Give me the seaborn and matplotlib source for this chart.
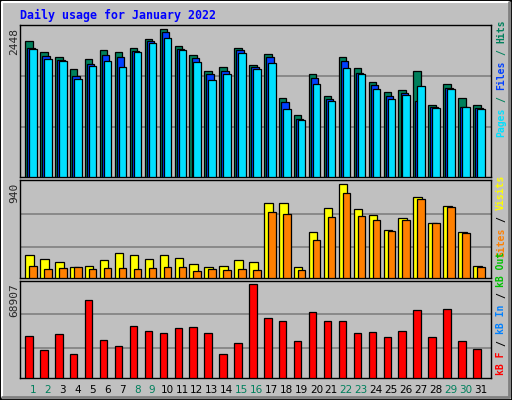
import matplotlib
matplotlib.use("Agg")
import matplotlib.pyplot as plt
import seaborn as sns
import numpy as np

sns.set_style("white")
plt.rcParams["font.family"] = ["DejaVu Sans Mono", "DejaVu Sans"]

days = list(range(1, 32))
weekend = [1, 2, 8, 9, 15, 16, 22, 23, 29, 30]
hits = [2249, 2066, 1983, 1784, 1950, 2099, 2066, 2133, 2282, 2448, 2166, 2016, 1751, 1817, 2133, 1850,
        2033, 1302, 1020, 1701, 1335, 1983, 1800, 1568, 1402, 1435, 1751, 1186, 1535, 1302, 1186]
files = [2133, 2000, 1933, 1668, 1867, 2016, 1983, 2083, 2249, 2398, 2116, 1967, 1701, 1751, 2100, 1817,
         1983, 1236, 953, 1634, 1286, 1917, 1717, 1518, 1335, 1385, 1252, 1153, 1468, 1153, 1136]
pages = [2116, 1950, 1917, 1618, 1834, 1917, 1817, 2066, 2216, 2299, 2100, 1900, 1601, 1701, 2050, 1784,
         1884, 1120, 937, 1535, 1252, 1800, 1701, 1452, 1286, 1352, 1502, 1136, 1452, 1153, 1120]
visits = [225, 194, 163, 112, 123, 184, 245, 225, 194, 225, 204, 143, 112, 123, 184, 163,
          746, 746, 112, 460, 695, 940, 685, 634, 480, 603, 807, 552, 715, 460, 123]
sites = [123, 92, 102, 112, 92, 102, 102, 92, 102, 112, 112, 72, 92, 82, 92, 82,
         664, 644, 82, 378, 613, 848, 623, 582, 470, 582, 787, 552, 705, 450, 112]
kbytes = [31186, 20623, 32695, 17605, 57594, 28168, 23641, 37977, 34959, 33450, 36468, 37222, 33450,
          17605, 25905, 68907, 44013, 41749, 27414, 48540, 41749, 41749, 33450, 34204, 30432, 34959,
          50049, 30432, 50803, 27414, 21378]

BG = "#C0C0C0"
GRID = "#808080"
W, H = 512, 400
fig = plt.figure(figsize=(W / 100, H / 100), dpi=100, facecolor=BG)


def add_ax(top, bottom):
    ax = fig.add_axes([20 / W, 1 - bottom / H, 471 / W, (bottom - top) / H])
    ax.set_facecolor(BG)
    for s in ax.spines.values():
        s.set_color("black")
        s.set_linewidth(1)
    ax.set_xlim(0.15, 31.7)
    ax.set_xticks([])
    ax.set_yticks([])
    return ax


x = np.array(days, dtype=float)
kw = dict(width=0.5, align="edge", edgecolor="black", linewidth=0.9, zorder=3)

ax1 = add_ax(25, 177)
ax1.set_ylim(0, 2511)
for g in (820, 1668):
    ax1.axhline(g, color=GRID, lw=1.2, zorder=1)
ax1.bar(x - 0.5, hits, color="#00805C", **kw)
ax1.bar(x - 0.36, files, color="#0040FF", **kw)
ax1.bar(x - 0.23, pages, color="#00E0FF", **kw)

ax2 = add_ax(180, 278)
ax2.set_ylim(0, 979)
for g in (307, 644):
    ax2.axhline(g, color=GRID, lw=1.2, zorder=1)
ax2.bar(x - 0.5, visits, color="#FFFF00", **dict(kw, width=0.57))
ax2.bar(x - 0.23, sites, color="#FF8000", **kw)

ax3 = add_ax(281, 378)
ax3.set_ylim(0, 71452)
for g in (22132, 47030):
    ax3.axhline(g, color=GRID, lw=1.2, zorder=1)
ax3.bar(x - 0.5, kbytes, color="#FF0000", **kw)
ax3.set_xticks(days)
ax3.set_xticklabels([str(d) for d in days], family="DejaVu Sans", fontsize=7.5)
ax3.tick_params(axis="x", length=0, pad=5)
for lbl, d in zip(ax3.get_xticklabels(), days):
    lbl.set_color("#00805C" if d in weekend else "black")

fig.text(20 / W, 1 - 15 / H, "Daily usage for January 2022", color="#0000FF",
         fontsize=8.4, fontweight="bold", va="center", ha="left")

for txt, top in (("2448", 28), ("940", 183), ("68907", 283)):
    fig.text(14 / W, 1 - top / H, txt, rotation=90, fontsize=8, ha="center", va="top")

SIDE_FS = 7.0
ADV = SIDE_FS * 0.602 * 100 / 72  # monospace advance in pixels


def side_label(pieces, start):
    y = start
    for t, c in pieces:
        fig.text(501 / W, 1 - y / H, t, rotation=90, color=c, fontsize=SIDE_FS,
                 fontweight="bold", ha="center", va="bottom")
        y -= len(t) * ADV + 6


side_label([("Pages", "#00E0FF"), ("/", "#00805C"), ("Files", "#0040FF"),
            ("/", "#00805C"), ("Hits", "#00805C")], 137)
side_label([("Sites", "#FF8000"), ("/", "black"), ("Visits", "#FFFF00")], 257)
side_label([("kB F", "#FF0000"), ("/", "black"), ("kB In", "#0080FF"),
            ("/", "black"), ("kB Out", "#00C000")], 375)

# bevelled outer frame
fig.add_artist(plt.Rectangle((0, 0), 1, 1, transform=fig.transFigure, fill=False,
                             edgecolor="black", lw=2))
fig.add_artist(plt.Line2D([2 / W, 2 / W, 1 - 3 / W], [3 / H, 1 - 2 / H, 1 - 2 / H],
                          transform=fig.transFigure, color="white", lw=1.5))
fig.add_artist(plt.Line2D([2 / W, 1 - 3 / W, 1 - 3 / W], [3 / H, 3 / H, 1 - 2 / H],
                          transform=fig.transFigure, color=GRID, lw=2))

fig.savefig("out.png", dpi=100, facecolor=BG)
